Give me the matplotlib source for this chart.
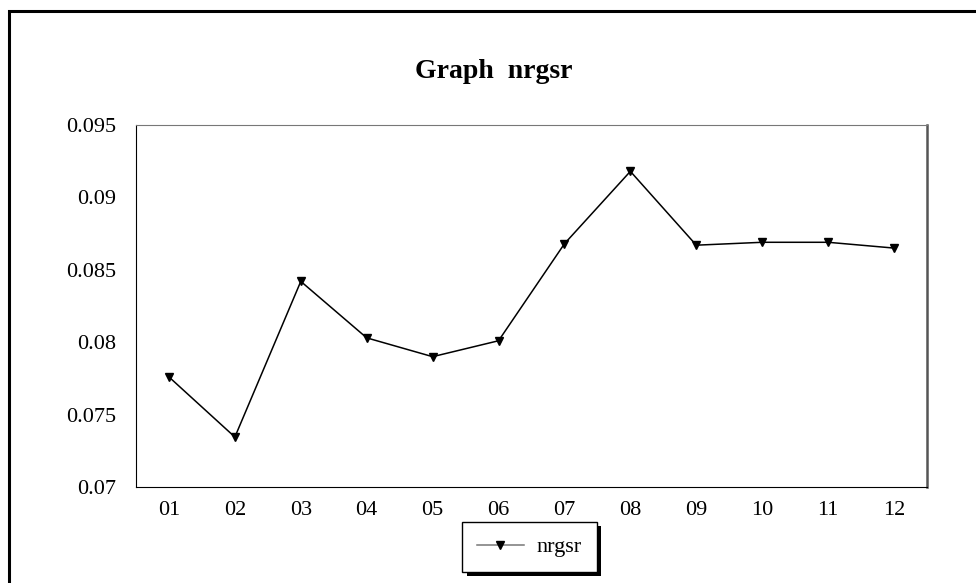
import numpy as np
import matplotlib
matplotlib.use("Agg")
import matplotlib.pyplot as plt
from matplotlib.patches import Rectangle
import matplotlib.patheffects as pe

months = ['01', '02', '03', '04', '05', '06', '07', '08', '09', '10', '11', '12']
nrgsr = [0.0776, 0.07345, 0.0842, 0.0803, 0.0790, 0.0801,
         0.0868, 0.0918, 0.0867, 0.0869, 0.0869, 0.0865]
y_ticks = [0.07, 0.075, 0.08, 0.085, 0.09, 0.095]
y_labels = ['0.07', '0.075', '0.08', '0.085', '0.09', '0.095']

plt.rcParams['font.family'] = ['Liberation Serif', 'DejaVu Serif']

fig = plt.figure(figsize=(9.76, 5.83), dpi=100)

# outer chart frame (runs off the right and bottom edges)
fig.patches.append(Rectangle((8.5 / 976, -0.05), 1.1, (583 - 10.5) / 583 + 0.05,
                             transform=fig.transFigure, fill=False,
                             edgecolor='black', linewidth=2.2))

ax = fig.add_axes([136 / 976, (583 - 487) / 583, 791 / 976, 362 / 583])
x = np.arange(len(months))
ax.plot(x, nrgsr, color='black', linewidth=1.1, marker='v', markersize=6,
        markerfacecolor='black', markeredgecolor='black', label='nrgsr')

ax.set_xlim(-0.5, len(months) - 0.5)
ax.set_ylim(0.07, 0.095)
ax.set_xticks(x)
ax.set_xticklabels(months)
ax.set_yticks(y_ticks)
ax.set_yticklabels(y_labels)
ax.tick_params(length=0, labelsize=16, pad=14)
ax.tick_params(axis='x', pad=10)

ax.spines['left'].set_color('black')
ax.spines['bottom'].set_color('black')
ax.spines['top'].set_color('#777777')
ax.spines['right'].set_color('#555555')
ax.spines['right'].set_linewidth(1.8)

fig.text(494 / 976, 1 - 71 / 583, 'Graph  nrgsr', ha='center', va='center',
         fontsize=20, fontweight='bold')

leg = ax.legend(loc='center', bbox_to_anchor=(529.5 / 976, 1 - 547 / 583),
                bbox_transform=fig.transFigure, fontsize=16, frameon=True,
                fancybox=False, shadow=False, framealpha=1.0,
                handlelength=2.1, handletextpad=0.6, borderpad=0.65)
frame = leg.get_frame()
frame.set_facecolor('white')
frame.set_edgecolor('black')
frame.set_linewidth(1.0)
frame.set_path_effects([pe.SimplePatchShadow(offset=(3, -3), shadow_rgbFace='black',
                                             alpha=1.0), pe.Normal()])
leg.get_lines()[0].set_color('#777777')
leg.get_lines()[0].set_markerfacecolor('black')
leg.get_lines()[0].set_markeredgecolor('black')

fig.savefig('out.png', dpi=100)
